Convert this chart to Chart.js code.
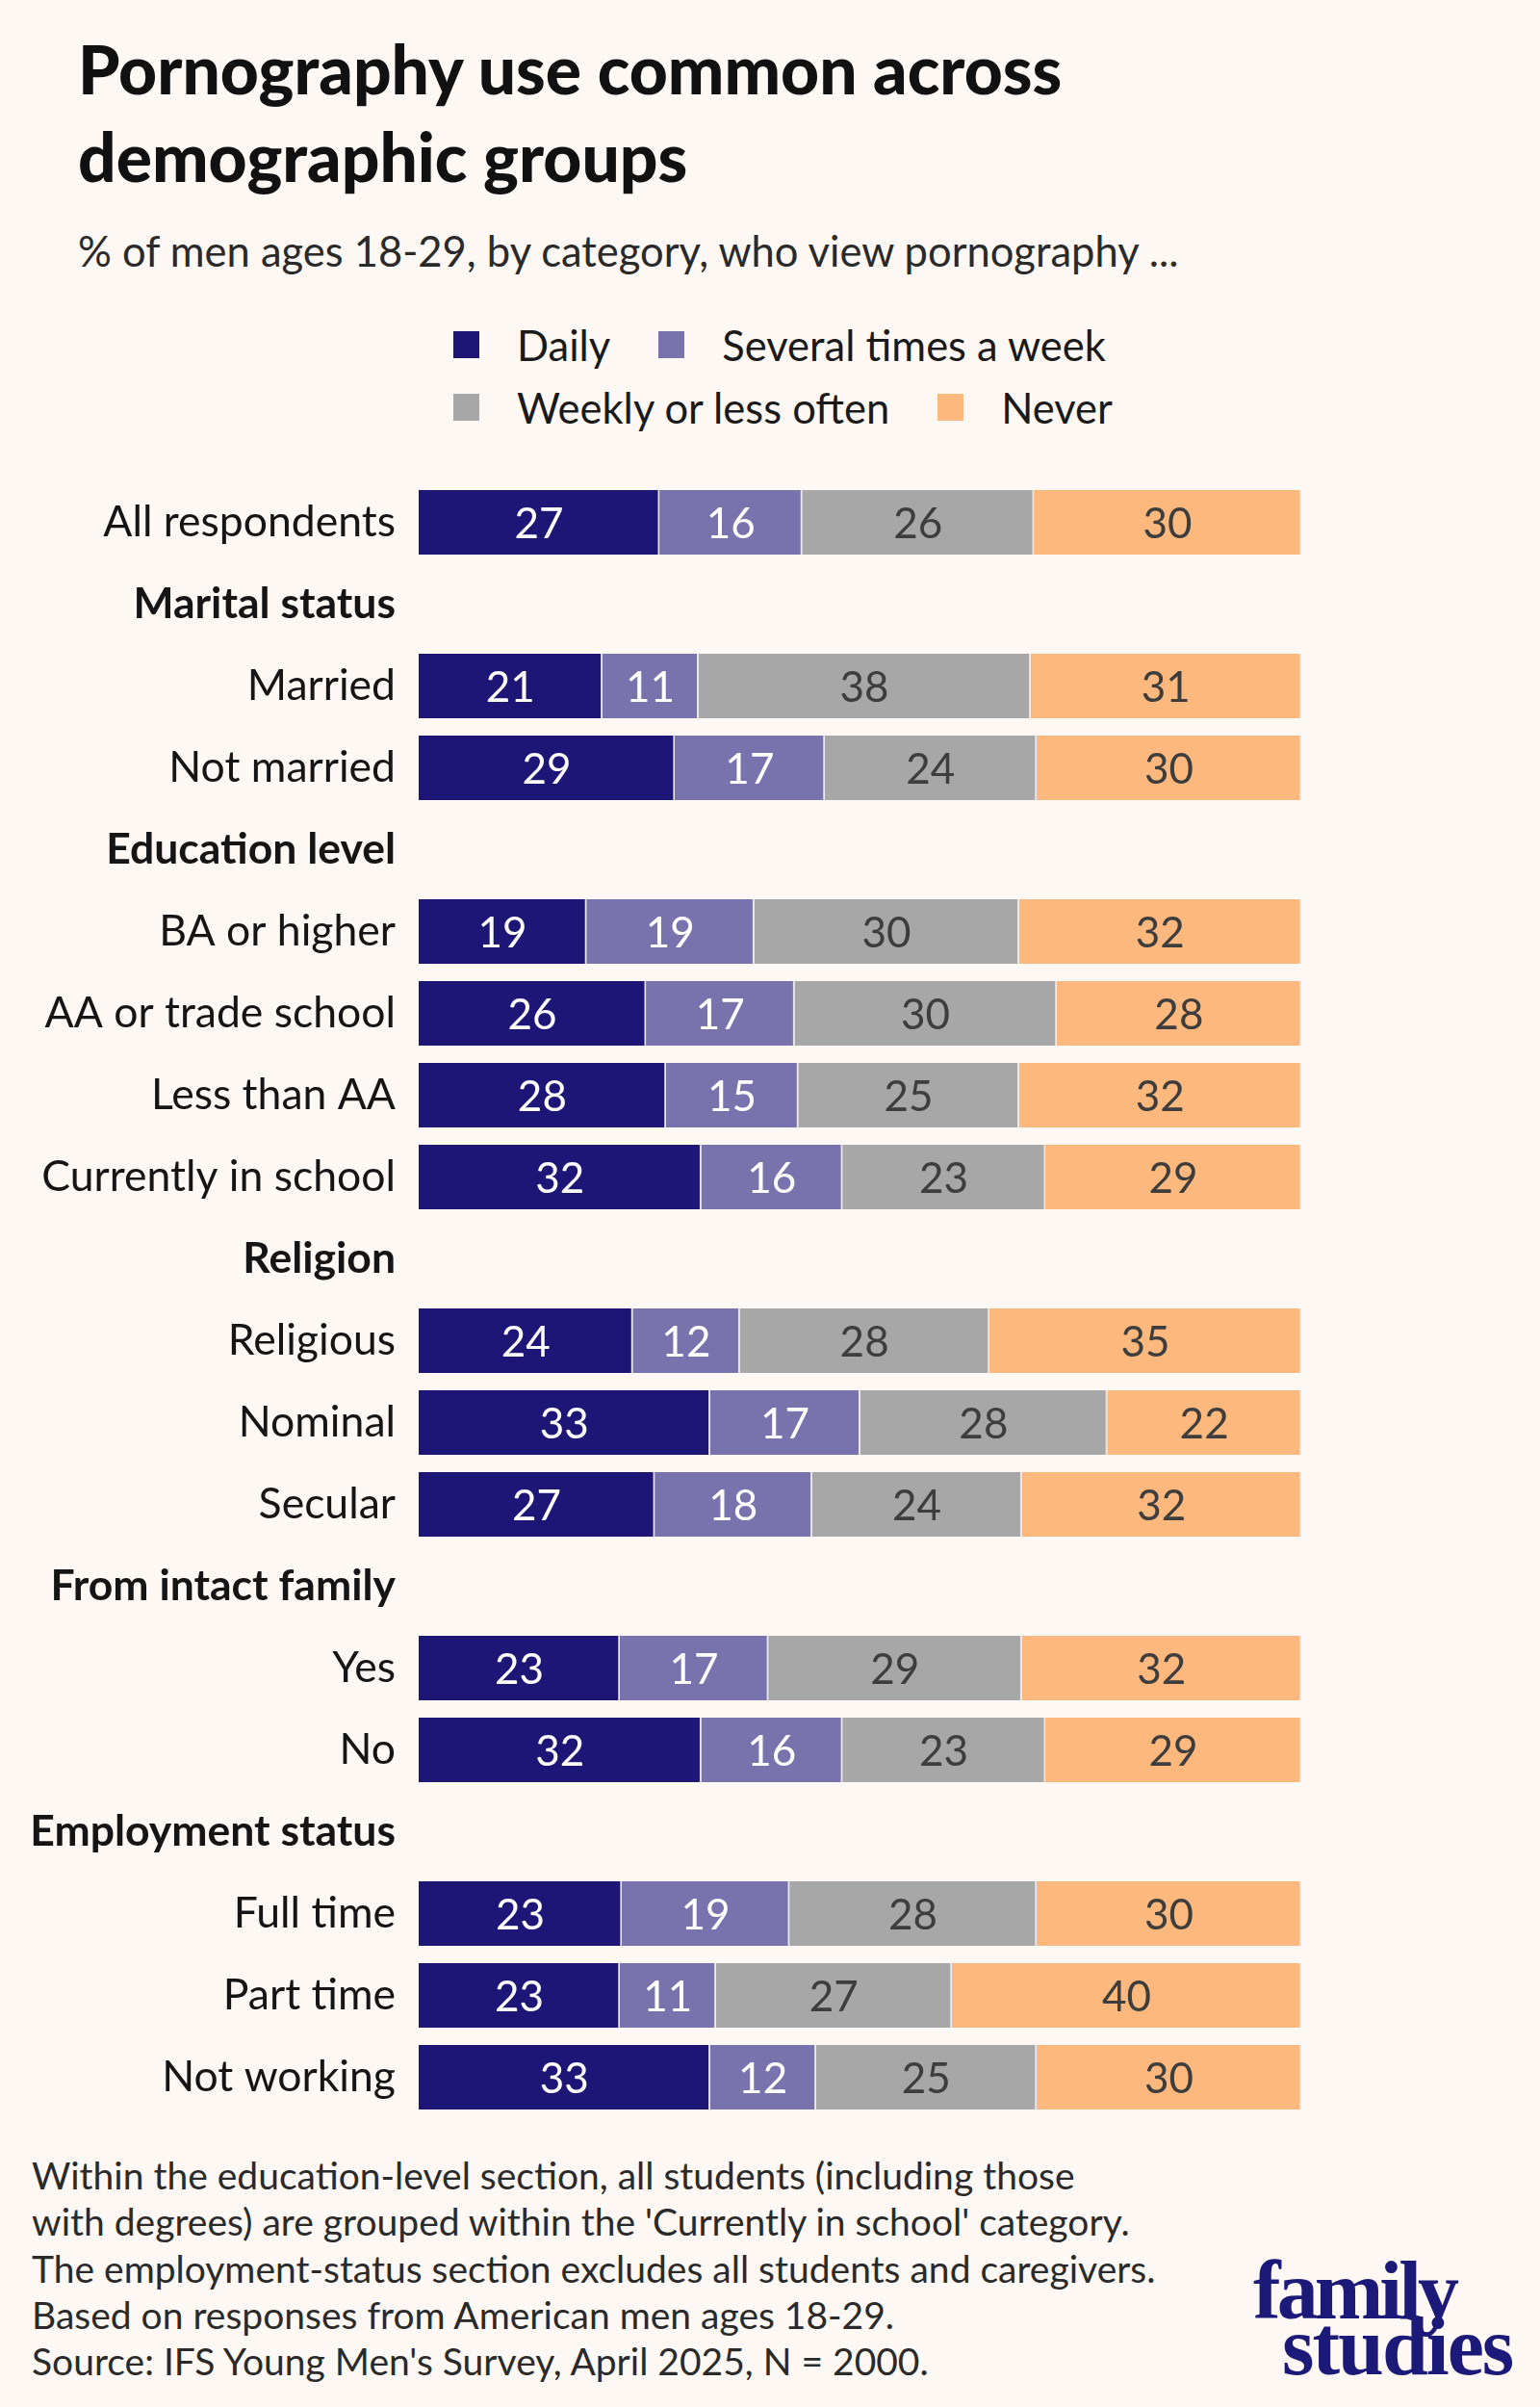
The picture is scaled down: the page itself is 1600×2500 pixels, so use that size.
<!DOCTYPE html>
<html lang="en">
<head>
<meta charset="UTF-8">
<title>Pornography use common across demographic groups</title>
<script src="https://cdn.jsdelivr.net/npm/chart.js"></script>
<style>
body {
    margin: 0;
    background: #fdf8f4;
    font-family: 'Lato', sans-serif;
}
#page {
    position: relative;
    width: 1600px;
    height: 2500px;
    overflow: hidden;
}
.title {
    position: absolute;
    left: 81px;
    top: 26px;
    font-size: 69.5px;
    line-height: 91px;
    font-weight: 900;
    color: #111;
}
.subtitle {
    position: absolute;
    left: 81px;
    top: 234px;
    font-size: 43.5px;
    line-height: 1.2;
    color: #2a2a2a;
}
#legend {
    position: absolute;
    left: 471px;
    top: 333px;
    width: 760px;
    display: flex;
    flex-wrap: wrap;
    column-gap: 50px;
    row-gap: 15px;
}
.legend-item {
    display: flex;
    align-items: center;
    font-size: 43.5px;
    line-height: 50px;
    color: #1a1a1a;
}
.legend-item span.box {
    width: 27px;
    height: 28px;
    margin-right: 39px;
}
#chartWrap {
    position: absolute;
    left: 0;
    top: 500px;
    width: 1600px;
    height: 1700px;
}
.note {
    position: absolute;
    left: 33px;
    top: 2235px;
    font-size: 39px;
    line-height: 48.3px;
    color: #2a2a2a;
}
.logo {
    position: absolute;
    font-family: 'Liberation Serif', serif;
    font-weight: 700;
    font-size: 86px;
    line-height: 1;
    color: #1c1a78;
    letter-spacing: -2px;
}
</style>
</head>
<body>
<div id="page">
    <div class="title">Pornography use common across<br>demographic groups</div>
    <div class="subtitle">% of men ages 18-29, by category, who view pornography ...</div>
    <div id="legend"></div>
    <div id="chartWrap"><canvas id="StackedBars"></canvas></div>
    <div class="note">
        Within the education-level section, all students (including those<br>
        with degrees) are grouped within the 'Currently in school' category.<br>
        The employment-status section excludes all students and caregivers.<br>
        Based on responses from American men ages 18-29.<br>
        Source: IFS Young Men's Survey, April 2025, N = 2000.
    </div>
    <div class="logo" style="left:1302px; top:2336px; letter-spacing:-4px;">family</div>
    <div class="logo" style="left:1332px; top:2394px;">studies</div>
</div>
<script>
// rows of the chart, section headings have no bars
const categories = [
    "All respondents",
    "Marital status", "Married", "Not married",
    "Education level", "BA or higher", "AA or trade school", "Less than AA", "Currently in school",
    "Religion", "Religious", "Nominal", "Secular",
    "From intact family", "Yes", "No",
    "Employment status", "Full time", "Part time", "Not working"
];
const headerRows = ["Marital status", "Education level", "Religion", "From intact family", "Employment status"];

const seriesNames = ["Daily", "Several times a week", "Weekly or less often", "Never"];
const daily   = [27, null, 21, 29, null, 19, 26, 28, 32, null, 24, 33, 27, null, 23, 32, null, 23, 23, 33];
const several = [16, null, 11, 17, null, 19, 17, 15, 16, null, 12, 17, 18, null, 17, 16, null, 19, 11, 12];
const weekly  = [26, null, 38, 24, null, 30, 30, 25, 23, null, 28, 28, 24, null, 29, 23, null, 28, 27, 25];
const never   = [30, null, 31, 30, null, 32, 28, 32, 29, null, 35, 22, 32, null, 32, 29, null, 30, 40, 30];

const colors = ["#1e1677", "#7873ad", "#a7a7a7", "#fdb87d"];
const labelColors = ["#ffffff", "#ffffff", "#3d3d3d", "#3d3d3d"];

const series = [daily, several, weekly, never];

// each bar is stretched to full width, labels keep the survey numbers
function rowTotal(i){
    let sum = 0;
    series.forEach(s => { if (s[i] != null) sum += s[i]; });
    return sum;
}

function buildLegend(){
    const legend = document.getElementById("legend");
    seriesNames.forEach((name, i) => {
        const item = document.createElement("div");
        item.classList.add("legend-item");
        item.innerHTML = `<span class="box" style="background:${colors[i]}"></span>${name}`;
        legend.appendChild(item);
    });
}

const valueLabels = {
    id: "valueLabels",
    afterDatasetsDraw(chart){
        const ctx = chart.ctx;
        ctx.save();
        ctx.font = "44px Lato";
        ctx.textAlign = "center";
        ctx.textBaseline = "middle";
        chart.data.datasets.forEach((ds, i) => {
            const meta = chart.getDatasetMeta(i);
            meta.data.forEach((bar, j) => {
                const raw = series[i][j];
                if (raw == null) return;
                const p = bar.getProps(["x", "y", "base"], true);
                ctx.fillStyle = labelColors[i];
                ctx.fillText(raw, (p.x + p.base) / 2, p.y + 2);
            });
        });
        ctx.restore();
    }
};

function drawChart(){
    const ctx = document.getElementById("StackedBars").getContext("2d");
    new Chart(ctx, {
        type: "bar",
        data: {
            labels: categories,
            datasets: series.map((s, i) => ({
                label: seriesNames[i],
                data: s.map((v, j) => v == null ? null : v / rowTotal(j) * 100),
                backgroundColor: colors[i],
                borderColor: "#e9e6f2",
                borderWidth: {right: 1.5},
                borderSkipped: false,
                barPercentage: 0.79,
                categoryPercentage: 1
            }))
        },
        options: {
            indexAxis: "y",
            responsive: true,
            maintainAspectRatio: false,
            animation: false,
            layout: {padding: {left: 0, right: 248, top: 0, bottom: 0}},
            plugins: {
                legend: {display: false},
                tooltip: {enabled: false}
            },
            scales: {
                x: {
                    stacked: true,
                    display: false,
                    min: 0,
                    max: 100
                },
                y: {
                    stacked: true,
                    grid: {display: false, drawTicks: false},
                    border: {display: false},
                    afterFit(scale){
                        scale.width = 435;
                        scale.paddingTop = 0;
                        scale.paddingBottom = 0;
                    },
                    ticks: {
                        padding: 24,
                        color: "#151515",
                        font: (c) => ({
                            family: "Lato",
                            size: 44.5,
                            weight: headerRows.includes(categories[c.index]) ? "bold" : "normal"
                        })
                    }
                }
            }
        },
        plugins: [valueLabels]
    });
}

buildLegend();
Promise.all([
    document.fonts.load("44px Lato"),
    document.fonts.load("bold 44px Lato")
]).then(drawChart, drawChart);
</script>
</body>
</html>
